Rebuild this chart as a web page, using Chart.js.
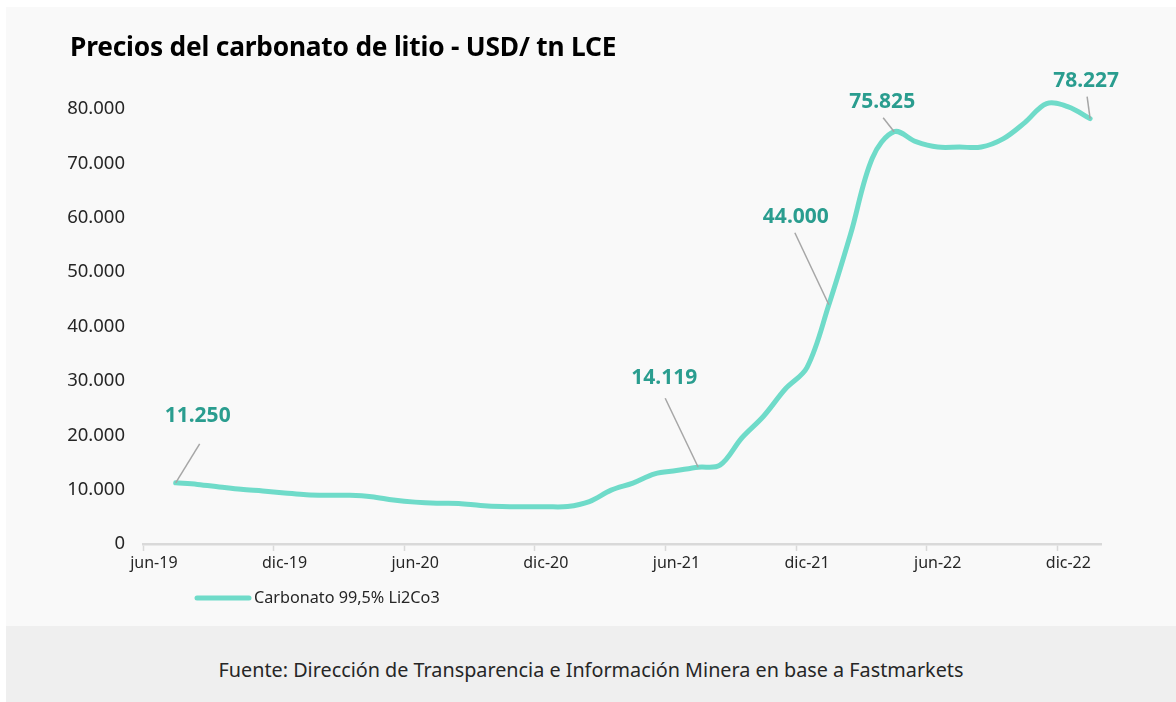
<!DOCTYPE html>
<html>
<head>
<meta charset="utf-8">
<script src="https://cdn.jsdelivr.net/npm/chart.js@4.4.0/dist/chart.umd.min.js"></script>
<style>
  html, body { margin: 0; padding: 0; background: #ffffff; }
  body { width: 1176px; height: 702px; position: relative; overflow: hidden; font-family: "Noto Sans", sans-serif; }
  #card { position: absolute; left: 6px; top: 7px; width: 1170px; height: 619px; background: #f9f9f9; }
  #title { position: absolute; left: 70px; top: 28px; font-family: "Noto Sans", sans-serif; font-weight: 700; font-size: 26.3px; color: #000; white-space: nowrap; letter-spacing: -0.2px; line-height: 36px; }
  #wrap { position: absolute; left: 0; top: 0; width: 1176px; height: 626px; }
  #footer { position: absolute; left: 6px; top: 626px; width: 1170px; height: 76px; background: #efefef; }
  #footer span { position: absolute; left: 0; right: 0; top: 30px; text-align: center; font-size: 19.8px; color: #262626; font-family: "Noto Sans", sans-serif; line-height: 28px; }
</style>
</head>
<body>
<div id="card"></div>
<div id="wrap"><canvas id="c" width="1176" height="626"></canvas></div>
<div id="title">Precios del carbonato de litio - USD/ tn LCE</div>
<div id="footer"><span>Fuente: Dirección de Transparencia e Información Minera en base a Fastmarkets</span></div>
<script>
const months = [
  "jun-19","jul-19","ago-19","sep-19","oct-19","nov-19","dic-19",
  "ene-20","feb-20","mar-20","abr-20","may-20","jun-20",
  "jul-20","ago-20","sep-20","oct-20","nov-20","dic-20",
  "ene-21","feb-21","mar-21","abr-21","may-21","jun-21",
  "jul-21","ago-21","sep-21","oct-21","nov-21","dic-21",
  "ene-22","feb-22","mar-22","abr-22","may-22","jun-22",
  "jul-22","ago-22","sep-22","oct-22","nov-22","dic-22",
  "ene-23"
];
const carbonato = [
  null, 11250, 10950, 10500, 10050, 9750, 9400,
  9050, 8950, 8950, 8700, 8100, 7700,
  7500, 7450, 7100, 6900, 6850, 6850,
  6900, 7800, 9900, 11200, 12900, 13500,
  14119, 14500, 19500, 23500, 28500, 32500,
  44000, 57000, 71000, 75825, 74000, 73000,
  73000, 73000, 74500, 77500, 81000, 80400,
  78227
];
const seriesName = "Carbonato 99,5% Li2Co3";
const yTicks = [0, 10000, 20000, 30000, 40000, 50000, 60000, 70000, 80000];
const labelledIdx = [1, 25, 31, 34, 43];
const labelOffsets = { 1: [22, -67], 25: [-34, -89], 31: [-33, -88], 34: [-12, -30], 43: [-4, -38] };
const leaderStart = { 1: [24, -39], 25: [-33, -69], 31: [-34, -72], 34: [-11, -14], 43: [-3, -22] };

const fmt = v => Math.round(v).toString().replace(/\B(?=(\d{3})+(?!\d))/g, ".");

const annotate = {
  id: 'annotate',
  afterDatasetsDraw(chart) {
    const ctx = chart.ctx;
    const meta = chart.getDatasetMeta(0);
    ctx.save();
    labelledIdx.forEach(i => {
      const p = meta.data[i];
      const lo = labelOffsets[i], ls = leaderStart[i];
      ctx.strokeStyle = '#a6a6a6';
      ctx.lineWidth = 1.5;
      ctx.beginPath();
      ctx.moveTo(p.x + ls[0], p.y + ls[1]);
      ctx.lineTo(p.x, p.y);
      ctx.stroke();
      ctx.fillStyle = '#2a9d8f';
      ctx.font = 'bold 21px "Noto Sans"';
      ctx.textAlign = 'center';
      ctx.textBaseline = 'middle';
      ctx.fillText(fmt(carbonato[i]), p.x + lo[0], p.y + lo[1]);
    });
    ctx.restore();
  },
  afterDraw(chart) {
    const ctx = chart.ctx;
    ctx.save();
    ctx.strokeStyle = '#6fdbc9';
    ctx.lineWidth = 5;
    ctx.lineCap = 'round';
    ctx.beginPath();
    ctx.moveTo(197, 598);
    ctx.lineTo(249, 598);
    ctx.stroke();
    ctx.fillStyle = '#262626';
    ctx.font = '16.2px "Noto Sans"';
    ctx.textAlign = 'left';
    ctx.textBaseline = 'middle';
    ctx.fillText(chart.data.datasets[0].label, 254, 598);
    ctx.restore();
  }
};

new Chart(document.getElementById('c'), {
  type: 'line',
  data: {
    labels: months,
    datasets: [{
      label: seriesName,
      data: carbonato,
      borderColor: '#6fdbc9',
      borderWidth: 5,
      pointRadius: 0,
      tension: 0.35,
      borderCapStyle: 'round',
      borderJoinStyle: 'round',
      clip: false,
      spanGaps: false
    }]
  },
  options: {
    responsive: false,
    animation: false,
    devicePixelRatio: 1,
    layout: { padding: { left: 0, right: 75, top: 109, bottom: 0 } },
    plugins: { legend: { display: false }, tooltip: { enabled: false }, title: { display: false } },
    scales: {
      x: {
        type: 'category',
        offset: true,
        grid: {
          offset: true,
          drawOnChartArea: false,
          drawTicks: true,
          tickLength: 7,
          tickWidth: 1.5,
          tickColor: c => (c.index !== undefined && c.index % 6 === 0) ? '#d9d9d9' : 'rgba(0,0,0,0)',
          color: 'rgba(0,0,0,0)'
        },
        border: { display: true, color: '#d9d9d9', width: 2.5 },
        ticks: {
          autoSkip: false,
          maxRotation: 0,
          minRotation: 0,
          padding: 3,
          color: '#262626',
          font: { family: 'Noto Sans', size: 16 },
          callback: function(v, i) { return i % 6 === 0 ? this.getLabelForValue(v) : ''; }
        },
        afterFit: s => { s.height = 82; }
      },
      y: {
        min: 0,
        max: 80000,
        grid: { display: false, drawTicks: false },
        border: { display: false },
        afterBuildTicks: s => { s.ticks = yTicks.map(v => ({ value: v })); },
        ticks: {
          padding: 18,
          color: '#262626',
          font: { family: 'Noto Sans', size: 18.5 },
          callback: v => fmt(v)
        },
        afterFit: s => { s.width = 143; }
      }
    }
  },
  plugins: [annotate]
});
</script>
</body>
</html>
